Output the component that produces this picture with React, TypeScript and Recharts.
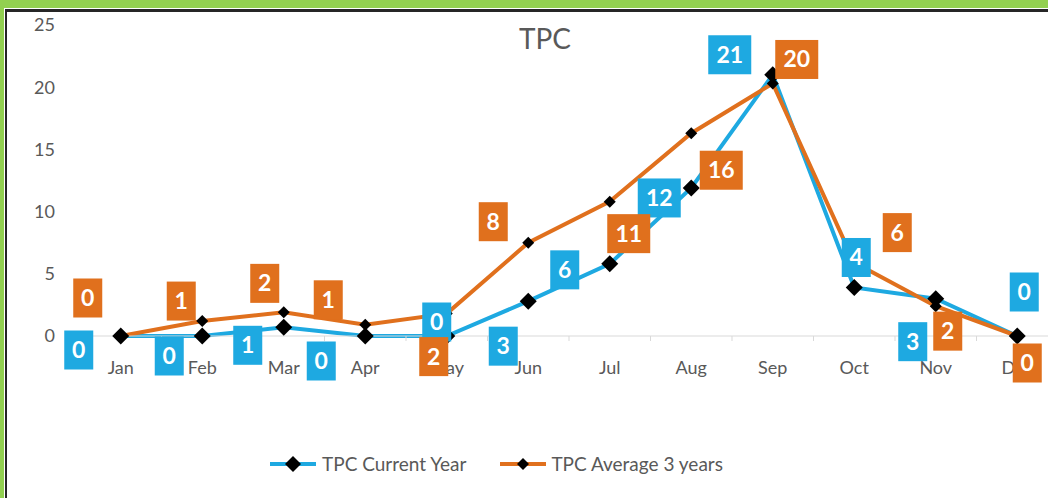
import React from 'react';
import { ComposedChart, Line, XAxis, YAxis, Legend, LabelList } from 'recharts';

const months = ['Jan', 'Feb', 'Mar', 'Apr', 'May', 'Jun', 'Jul', 'Aug', 'Sep', 'Oct', 'Nov', 'Dec'];
const currentYear = [0, 0, 0.7, 0, 0, 2.8, 5.8, 11.9, 21, 3.9, 3, 0];
const average3Years = [0, 1.2, 1.9, 0.9, 1.8, 7.5, 10.8, 16.3, 20.3, 5.9, 2.4, 0];
const yTicks = [0, 5, 10, 15, 20, 25];
const seriesNames = ['TPC Current Year', 'TPC Average 3 years'];
const title = 'TPC';

// label box offsets (dx, dy) relative to each point, as placed in the original
const currentLabelOffsets: [number, number][] = [
  [-42, 14], [-33, 20], [-36, 18], [-44, 25], [-10, -14], [-25, 45],
  [-45, 6], [-32, 10], [-43, -20], [2, -30], [-23, 43], [7, -44],
];
const averageLabelOffsets: [number, number][] = [
  [-33, -38], [-21, -20], [-19, -29], [-37, -25], [-13, 43], [-35, -21],
  [19, 32], [30, 37], [24, -24], [43, -30], [12, 25], [10, 27],
];

const BLUE = '#1ea9e1';
const ORANGE = '#e0701d';
const GRAY = '#595959';
const FONT = "Lato, 'Open Sans', sans-serif";

const data = months.map((m, i) => ({ month: m, current: currentYear[i], average: average3Years[i] }));

const makeDiamond = (r: number) => (props: any) => {
  const { cx, cy, index } = props;
  if (cx == null || cy == null) return <g key={`d-${index}`} />;
  return (
    <path
      key={`d-${index}`}
      d={`M${cx},${cy - r} L${cx + r},${cy} L${cx},${cy + r} L${cx - r},${cy} Z`}
      fill="#000"
    />
  );
};

const makeLabel = (offsets: [number, number][], color: string) => (props: any) => {
  const { x, y, value, index } = props;
  if (x == null || y == null) return null;
  const [dx, dy] = offsets[index] || [0, -20];
  const txt = String(Math.round(Number(value)));
  const w = txt.length > 1 ? 43 : 29;
  const h = 39;
  const cx = x + dx;
  const cy = y + dy;
  return (
    <g key={`l-${index}`}>
      <rect x={cx - w / 2} y={cy - h / 2} width={w} height={h} fill={color} />
      <text
        x={cx}
        y={cy + 8}
        textAnchor="middle"
        fill="#fff"
        fontSize={23}
        fontWeight={700}
        fontFamily={FONT}
      >
        {txt}
      </text>
    </g>
  );
};

const XTick = (props: any) => {
  const { x, y, payload, index, width, visibleTicksCount } = props;
  const count = visibleTicksCount || months.length;
  const half = (width || 978) / count / 2;
  const axisY = y - 8;
  return (
    <g>
      <line x1={x + half} y1={axisY} x2={x + half} y2={axisY + 5} stroke="#d9d9d9" />
      {index === 0 && <line x1={x - half} y1={axisY} x2={x - half} y2={axisY + 5} stroke="#d9d9d9" />}
      <text x={x} y={y + 30} textAnchor="middle" fill={GRAY} fontSize={18} fontFamily={FONT}>
        {payload.value}
      </text>
    </g>
  );
};

const LegendContent = () => (
  <div
    style={{
      display: 'flex',
      alignItems: 'center',
      height: 36,
      paddingTop: 1,
      boxSizing: 'border-box',
      paddingLeft: 268,
      fontFamily: FONT,
      fontSize: 19,
      color: GRAY,
    }}
  >
    <svg width={50} height={20}>
      <line x1={2} y1={10} x2={48} y2={10} stroke={BLUE} strokeWidth={4} />
      <path d="M25,2 L33,10 L25,18 L17,10 Z" fill="#000" />
    </svg>
    <span style={{ marginLeft: 4 }}>{seriesNames[0]}</span>
    <svg width={50} height={20} style={{ marginLeft: 32 }}>
      <line x1={2} y1={10} x2={48} y2={10} stroke={ORANGE} strokeWidth={4} />
      <path d="M25,4 L31,10 L25,16 L19,10 Z" fill="#000" />
    </svg>
    <span style={{ marginLeft: 3 }}>{seriesNames[1]}</span>
  </div>
);

export default function App() {
  return (
    <div style={{ position: 'absolute', left: 0, top: 0, width: 1048, height: 498, overflow: 'hidden', background: '#92d050' }}>
      <div style={{ position: 'absolute', left: 4, top: 8, width: 2000, height: 2000, background: '#fff' }} />
      <div
        style={{
          position: 'absolute',
          left: 5,
          top: 9,
          width: 2000,
          height: 2000,
          background: '#fff',
          borderLeft: '2px solid #262626',
          borderTop: '3px solid #262626',
        }}
      />
      <div
        style={{
          position: 'absolute',
          left: 0,
          top: 22,
          width: 1090,
          textAlign: 'center',
          fontFamily: FONT,
          fontSize: 28,
          color: GRAY,
          lineHeight: '32px',
        }}
      >
        {title}
      </div>
      <div style={{ position: 'absolute', left: 0, top: 0 }}>
        <ComposedChart width={1070} height={498} data={data} margin={{ top: 25, right: 12, left: 0, bottom: 17 }}>
          <XAxis
            dataKey="month"
            scale="band"
            height={109}
            axisLine={{ stroke: '#d9d9d9' }}
            tickLine={false}
            tick={<XTick />}
            interval={0}
          />
          <YAxis
            width={80}
            domain={[0, 25]}
            ticks={yTicks}
            axisLine={false}
            tickLine={false}
            tickSize={0}
            tickMargin={25}
            tick={{ fill: GRAY, fontSize: 18, fontFamily: FONT }}
          />
          <Legend verticalAlign="bottom" height={36} content={<LegendContent />} />
          <Line
            dataKey="current"
            name={seriesNames[0]}
            stroke={BLUE}
            strokeWidth={4}
            dot={makeDiamond(8.5)}
            activeDot={false}
            isAnimationActive={false}
          />
          <Line
            dataKey="average"
            name={seriesNames[1]}
            stroke={ORANGE}
            strokeWidth={4}
            dot={makeDiamond(6)}
            activeDot={false}
            isAnimationActive={false}
          />
          <Line
            dataKey="current"
            stroke="none"
            dot={false}
            activeDot={false}
            legendType="none"
            isAnimationActive={false}
          >
            <LabelList dataKey="current" content={makeLabel(currentLabelOffsets, BLUE)} />
          </Line>
          <Line
            dataKey="average"
            stroke="none"
            dot={false}
            activeDot={false}
            legendType="none"
            isAnimationActive={false}
          >
            <LabelList dataKey="average" content={makeLabel(averageLabelOffsets, ORANGE)} />
          </Line>
        </ComposedChart>
      </div>
    </div>
  );
}
